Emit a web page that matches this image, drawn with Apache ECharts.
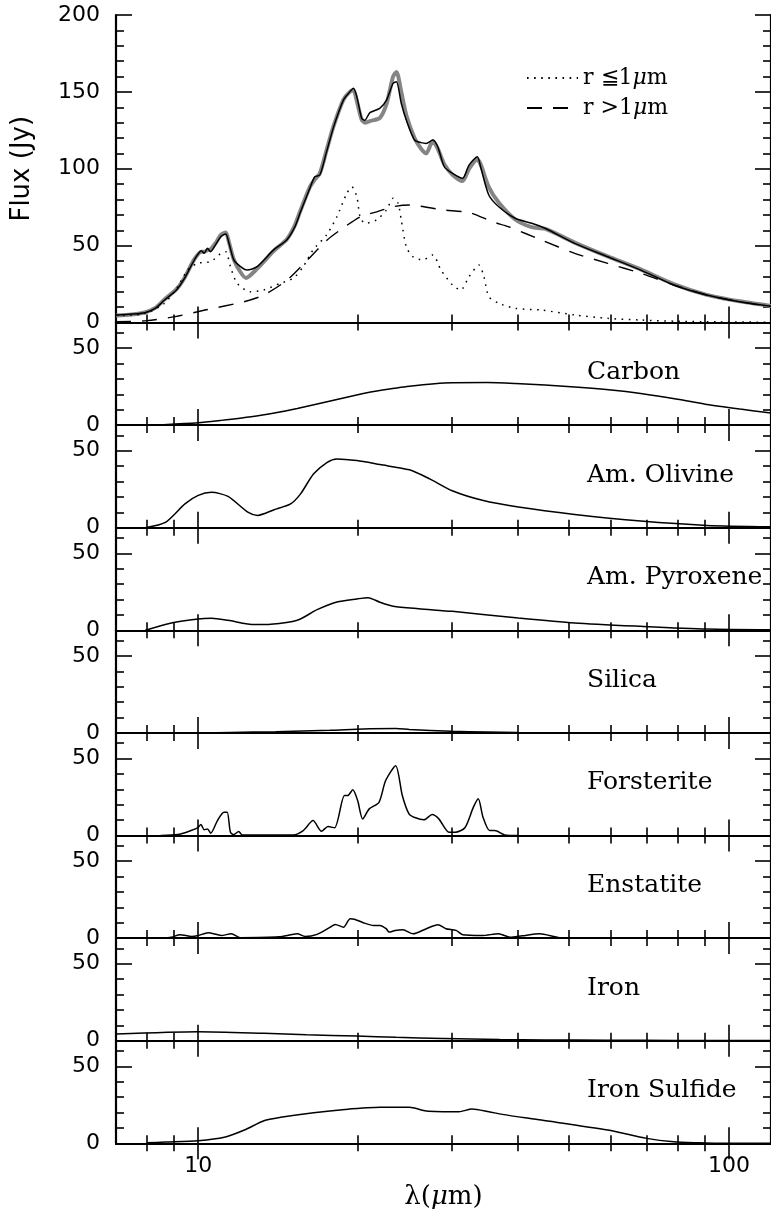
<!DOCTYPE html>
<html><head><meta charset="utf-8">
<script src="https://cdn.jsdelivr.net/npm/echarts@6/dist/echarts.min.js"></script>
<style>html,body{margin:0;padding:0;background:#fff}#c{width:771px;height:1216px}</style>
</head><body><div id="c"></div>
<script>
// ---------------- data ----------------
const obsLambda = [7.0,7.5,7.93,8.3,8.64,9.09,9.42,9.83,10.14,10.26,10.41,10.55,10.8,11.03,11.27,11.43,11.67,12.0,12.3,12.91,13.87,14.68,15.2,15.55,16.23,16.58,16.95,17.45,18.0,18.78,19.3,19.61,19.9,20.32,20.6,21.06,21.98,22.63,23.29,23.63,24.13,24.66,25.56,26.3,26.88,27.67,28.27,29.08,30.14,31.47,32.38,33.57,34.04,35.28,36.83,39.56,42.5,45.0,51.2,59.1,68.2,78.7,90.8,104.7,120];
const obsFlux   = [4.5,5.2,6.5,9.5,15,21.5,29,41,46,46,47,47.5,52,57,58.5,52,41,33,29,35,46.5,54,63,72,88,93,97,112,128,145,150,151,144,132,130,131,133,142,160,163,150,135,120,113,110,118,113,103,96,92,100,106,103,88,78,67,62,61,52,43,34.5,25,18,13.8,10.8];

const modelLambda = [7.0,7.5,7.93,8.3,8.64,9.09,9.42,9.83,10.14,10.26,10.41,10.55,10.8,11.03,11.27,11.43,11.67,12.0,12.36,12.91,13.87,14.68,15.2,15.55,16.23,16.58,16.95,17.45,18.0,18.78,19.3,19.61,19.9,20.32,20.6,21.06,21.98,22.63,23.29,23.63,24.13,24.66,25.56,26.3,26.88,27.67,28.27,29.08,30.14,31.47,32.38,33.57,34.04,35.28,36.83,39.56,42.5,45.0,51.2,59.1,68.2,78.7,90.8,104.7,120];
const modelFlux   = [4.9,5.5,6.4,9.2,14.6,21,28.7,40.6,46.7,45,48.3,46,51,55.8,57.6,51.5,40.7,36.5,34.1,36.3,47.2,53.7,62,71,87.3,94.8,95.9,111,127.4,144.7,150,152.3,146.9,132.8,131.5,136.5,139.3,144.7,155.6,156.6,142.6,131.7,118.7,117,116.5,118.7,114.3,101.3,97,93.8,102.4,107.8,101.3,82.9,75.3,67.8,64.5,61.3,51.5,42.8,34.1,24.4,17.9,13.5,10.5];

const smallLambda = [7.0,7.93,8.64,9.15,9.55,9.97,10.56,11.03,11.27,11.5,11.84,12.54,13.28,14.27,15.1,15.77,16.46,17.45,18.25,19.05,19.47,19.9,20.18,20.62,21.68,22.63,23.29,23.8,24.13,24.66,25.38,26.5,27.67,28.67,30.14,31.24,32.38,33.8,34.54,35.28,36.83,39.56,44.3,51.2,59.1,68.2,80,95,120];
const smallFlux   = [4.5,5.8,12.5,23.3,34.1,38.5,39.6,45,46,36.3,25.5,20,21.1,25.5,28.7,36.3,47.2,57,68.8,84,88.3,81.8,68.8,64.5,66.7,73.2,80.8,77.5,66.7,49.3,42.8,40.7,43.9,34.1,24.4,21.1,29.8,37.4,29.8,16.8,12.5,9.2,8.1,4.9,2.7,1.6,0.8,0.4,0.2];

const largeLambda = [7.0,8.0,9.05,10.3,12.2,13.3,14.7,16.05,17.5,18.5,20.2,21.7,23.3,25.0,28.9,32.4,35.8,38.4,44.3,51.2,59.1,68.2,78.7,90.8,104.7,120];
const largeFlux   = [0.5,1.2,3.8,8.1,13.5,17.9,27.6,40.6,53.7,60,68.8,72,75.3,76.4,73.2,71.5,65.6,62.3,53.7,45,38.5,32,24.4,17.9,13.5,10.5];

const carbonLambda = [8.0,8.6,10,11,12.58,14,15.37,17.74,20.46,21.7,25,30.1,35,39.6,45,51.2,60,68.2,80,90.8,105,120];
const carbonFlux   = [0,0.3,1.5,3,5.4,8,10.8,15.7,20.5,22.2,25.3,27.5,27.6,27,26,24.8,22.8,20.5,16.8,13.4,10.4,7.9];

const olivineLambda = [7.95,8.67,9.44,10,10.59,11.38,12.4,12.94,13.9,14.93,15.59,16.5,17.5,18.25,19.9,22,25,27.3,30.1,34.3,40.1,51.2,68.2,90.8,120];
const olivineFlux   = [0,3.4,15.5,21,23,20.3,10.1,8,11.7,15.5,22,35,42.5,44.7,43.6,41,37.6,31.7,24,17.8,13.4,8.6,4.3,1.5,0.6];

const pyroxeneLambda = [7.95,8.9,10,10.59,11.38,12.76,13.7,15.37,16.75,18.25,19.9,20.9,22,23.3,26,30.1,40.1,51.2,68.2,90.8,120];
const pyroxeneFlux   = [0,4.8,7.4,7.8,6.5,3.7,3.9,6.5,13.4,18.4,20.4,21.2,18.2,15.6,14,12.3,8,4.8,2.6,0.8,0.3];

const silicaLambda = [10,11.5,14,17.7,20.5,23.6,25,30,35,40,48];
const silicaFlux   = [0,0.3,0.8,1.7,2.6,2.8,2.2,1.1,0.6,0.3,0];

const forsteriteLambda = [8.5,9.15,9.69,9.97,10.12,10.26,10.41,10.56,10.87,11.18,11.34,11.5,11.67,11.92,12.1,15.1,15.77,16.46,17.07,17.56,18.07,18.86,19.13,19.55,19.97,20.41,21.0,21.91,22.55,23.55,24.24,24.95,25.67,26.62,27.59,28.4,29.68,30.5,31.8,33.0,33.7,34.4,35.4,36.2,37.8,40];
const forsteriteFlux   = [0,0.6,3.2,5,7.1,3.7,4.3,1.5,9.7,15.1,15.1,2.1,0.6,2.6,0.4,0.4,3.2,9.7,2.8,5.8,5,26,26,29.7,22.7,10.8,17.3,21.6,35.7,45.4,26,14.1,11.5,10.2,13.6,10.8,2.1,2.1,5,18.4,23.8,11.9,3.2,3.2,0.4,0];

const enstatiteLambda = [8.5,8.9,9.24,9.72,10,10.44,11.05,11.54,12,14.2,15.37,15.9,16.75,17.74,18.12,18.78,19.33,19.7,20.46,21.4,22,22.6,22.9,23.5,24.3,25.4,26.9,28.3,29.3,30.6,31.5,34.3,36.8,38.7,40.8,44,48,55];
const enstatiteFlux   = [0,0.6,2.2,1.1,1.7,3.5,1.7,2.8,0.3,0.8,2.8,1,2.4,7.1,8.9,7.1,12.6,12.3,10,8.2,8.2,6.1,3.9,5,5.4,2.8,6.1,8.7,6.1,5,2.2,1.7,2.8,0.5,1.5,2.8,0.3,0];

const ironLambda = [7,10,13.3,16,19.9,23.6,28.9,37,45,59,80,100,120];
const ironFlux   = [4.3,5.8,4.8,3.9,3,2.2,1.5,0.8,0.5,0.3,0.15,0.1,0.05];

const sulfideLambda = [8,8.67,10,11.2,12.22,13.3,14.3,16.5,18.9,22,25,26.9,31,32.8,35.3,37.4,44.3,59.1,70,78.7,88,95,120];
const sulfideFlux   = [0.3,0.8,1.7,3.9,8.6,14.7,16.9,19.9,22,23.4,23.4,21,20.5,22.3,20.5,18.8,15.1,8.6,3.2,1,0.3,0,0];

const panelNames = ['Carbon','Am. Olivine','Am. Pyroxene','Silica','Forsterite','Enstatite','Iron','Iron Sulfide'];
const panelLambdas = [carbonLambda,olivineLambda,pyroxeneLambda,silicaLambda,forsteriteLambda,enstatiteLambda,ironLambda,sulfideLambda];
const panelFluxes  = [carbonFlux,olivineFlux,pyroxeneFlux,silicaFlux,forsteriteFlux,enstatiteFlux,ironFlux,sulfideFlux];

const xMajorTicks = [10,100];
const xMinorTicks = [8,9,20,30,40,50,60,70,80,90];
const topYMajor = [0,50,100,150,200];
const topYMinor = [10,20,30,40,60,70,80,90,110,120,130,140,160,170,180,190];
const subYMajor = [0,50];
const subYMinor = [10,20,30,40,60];
const X_MIN = 7, X_MAX = 120, TOP_MAX = 200, SUB_MAX = 200/3;
const smallName = 'r ≦1μm', largeName = 'r >1μm';

// ---------------- layout ----------------
const L = 116, W = 662, T0 = 15, H0 = 307.5, HS = 102.6;
const NUM_FONT = 'DejaVu Sans', TXT_FONT = 'DejaVu Serif';
const zip = (xs, ys) => xs.map((x, k) => [x, ys[k]]);

const grids = [], xAxes = [], yAxes = [], series = [], graphics = [];
const axisLineStyle = { show: true, lineStyle: { color: '#000', width: 2.2 } };

function addPanel(i, top, height, ymax, yMajor, yMinor, isLast) {
  grids.push({ left: L, top: top, width: W, height: height });
  const xb = { type: 'log', logBase: 10, min: X_MIN, max: X_MAX, gridIndex: i, splitLine: { show: false } };
  const mk = (pos, major, lbl) => Object.assign({}, xb, {
    position: pos,
    axisLine: major ? axisLineStyle : { show: false },
    axisTick: { show: true, inside: true, length: major ? 16 : 8, lineStyle: { color: '#000', width: 1.6 },
                customValues: major ? xMajorTicks : xMinorTicks },
    axisLabel: lbl ? { show: true, customValues: xMajorTicks, margin: 12, color: '#000',
                fontFamily: NUM_FONT, fontSize: 22 } : { show: false }
  });
  const xMain = mk('bottom', true, isLast);
  if (isLast) {
    Object.assign(xMain, {
      name: '{n|λ(}{i|μ}{n|m)}', nameLocation: 'middle', nameGap: 41,
      nameTextStyle: { rich: {
        n: { fontFamily: TXT_FONT, fontSize: 26, color: '#000' },
        i: { fontFamily: TXT_FONT, fontSize: 26, fontStyle: 'italic', color: '#000' } } }
    });
  }
  xAxes.push(xMain, mk('bottom', false, false), mk('top', true, false), mk('top', false, false));

  const yb = { type: 'value', min: 0, max: ymax, gridIndex: i, splitLine: { show: false } };
  const mky = (pos, major, lbl) => Object.assign({}, yb, {
    position: pos,
    axisLine: major ? axisLineStyle : { show: false },
    axisTick: { show: true, inside: true, length: major ? 16 : 8, lineStyle: { color: '#000', width: 1.6 },
                customValues: major ? yMajor : yMinor },
    axisLabel: lbl ? { show: true, customValues: yMajor, margin: 16, color: '#000',
                fontFamily: NUM_FONT, fontSize: 22 } : { show: false }
  });
  const yMain = mky('left', true, true);
  if (i === 0) {
    Object.assign(yMain, { name: 'Flux (Jy)', nameLocation: 'middle', nameRotate: 90, nameGap: 81,
      nameTextStyle: { fontFamily: NUM_FONT, fontSize: 26, color: '#000' } });
  }
  yAxes.push(yMain, mky('left', false, false), mky('right', true, false), mky('right', false, false));
}

addPanel(0, T0, H0, TOP_MAX, topYMajor, topYMinor, false);
for (let p = 0; p < 8; p++) {
  const top = T0 + H0 + p * HS;
  addPanel(p + 1, top, HS, SUB_MAX, subYMajor, subYMinor, p === 7);
  graphics.push({ type: 'text', x: 587, y: top + 50,
    style: { text: panelNames[p], fontFamily: TXT_FONT, fontSize: 25, fill: '#000',
             align: 'left', verticalAlign: 'middle' } });
}

const base = { type: 'line', showSymbol: false, symbol: 'none', smooth: 0.25, animation: false };
series.push(Object.assign({}, base, { name: 'observed', xAxisIndex: 0, yAxisIndex: 0, z: 1,
  data: zip(obsLambda, obsFlux), lineStyle: { color: '#858585', width: 4 } }));
series.push(Object.assign({}, base, { name: smallName, xAxisIndex: 0, yAxisIndex: 0, z: 2,
  data: zip(smallLambda, smallFlux), lineStyle: { color: '#000', width: 1.5, type: [1.6, 5.5] }, itemStyle: { color: '#000' } }));
series.push(Object.assign({}, base, { name: largeName, xAxisIndex: 0, yAxisIndex: 0, z: 2,
  data: zip(largeLambda, largeFlux), lineStyle: { color: '#000', width: 1.4, type: [15, 11] }, itemStyle: { color: '#000' } }));
series.push(Object.assign({}, base, { name: 'model', xAxisIndex: 0, yAxisIndex: 0, z: 3,
  data: zip(modelLambda, modelFlux), lineStyle: { color: '#000', width: 1.5 } }));
for (let p = 0; p < 8; p++) {
  series.push(Object.assign({}, base, { name: panelNames[p], xAxisIndex: 4 * (p + 1), yAxisIndex: 4 * (p + 1),
    data: zip(panelLambdas[p], panelFluxes[p]), lineStyle: { color: '#000', width: 1.5 } }));
}

const chart = echarts.init(document.getElementById('c'), null, { renderer: 'canvas' });
chart.setOption({
  animation: false,
  backgroundColor: '#fff',
  grid: grids, xAxis: xAxes, yAxis: yAxes, series: series,
  legend: {
    data: [smallName, largeName], orient: 'vertical', left: 521, top: 62,
    itemWidth: 51, itemHeight: 14, itemGap: 8, selectedMode: false,
    itemStyle: { opacity: 0 },
    formatter: n => n.replace('μ', '{i|μ}').replace(/^(.*?)\{/, '{n|$1}{').replace(/\}(m)$/, '}{n|m}'),
    textStyle: { fontFamily: TXT_FONT, fontSize: 22, color: '#000', padding: [0, 0, 0, 0],
      rich: { n: { fontFamily: TXT_FONT, fontSize: 22, color: '#000' },
              i: { fontFamily: TXT_FONT, fontSize: 22, fontStyle: 'italic', color: '#000' } } }
  },
  graphic: graphics
});
</script></body></html>
